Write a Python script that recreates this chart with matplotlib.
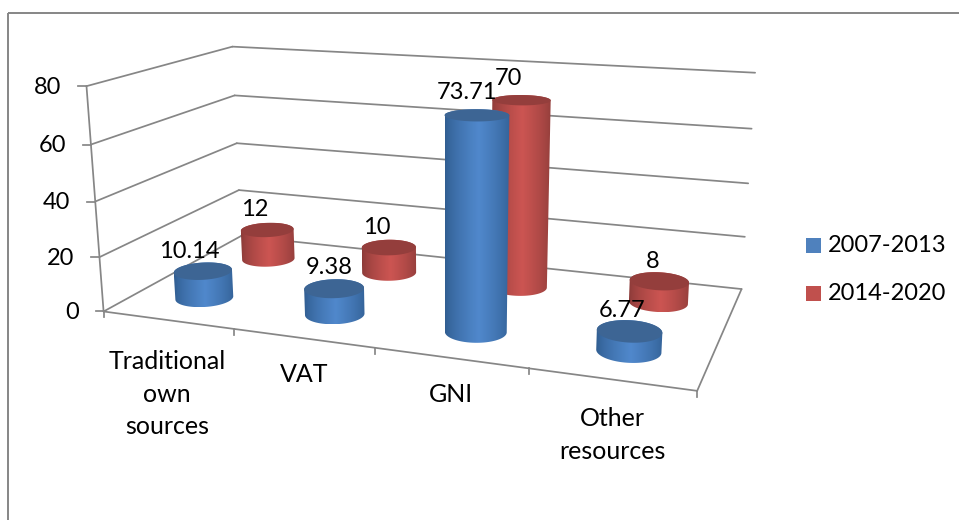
import numpy as np
import matplotlib
matplotlib.use("Agg")
import matplotlib.pyplot as plt
from matplotlib.colors import to_rgb
from matplotlib.patches import Polygon, Rectangle

plt.rcParams['font.family'] = ['Lato', 'DejaVu Sans']

# === Chart data ===
categories = ["Traditional\nown\nsources", "VAT", "GNI", "Other\nresources"]
series_names = ["2007-2013", "2014-2020"]
values_2007 = [10.14, 9.38, 73.71, 6.77]
values_2014 = [12, 10, 70, 8]
value_ticks = [0, 20, 40, 60, 80]

# === Layout ===
W, H = 959, 520
FS = 17
GRAY = "#868686"
BLUE = dict(light="#5088CC", dark="#2F5C8F", top="#3D6594", legend="#4F81BD", depth=0.25)
RED = dict(light="#CC5552", dark="#8A3A38", top="#943E3C", legend="#C0504D", depth=0.75)
RS, RT = 0.05, 0.1025  # cylinder radius along the categories and along the depth
VMAX = value_ticks[-1]
NCAT = len(categories)

# box corner (category share, depth, value share) -> pixel, to fit the camera
ANCHORS = [
    ((0, 0, 0), (103, 312)), ((1, 0, 0), (697, 391)), ((1, 1, 0), (741, 289)), ((0, 1, 0), (242, 236)),
    ((0, 0, 1), (87, 86)), ((0, 1, 1), (232, 47)), ((1, 1, 1), (755, 73)),
    ((0, 0, 0.5), (95.5, 201)), ((0, 1, 0.5), (236, 143)), ((1, 1, 0.5), (749, 183)),
]


def fit_camera(anchors):
    rows = []
    for (x, y, z), (u, v) in anchors:
        u, v = u / 500, v / 500
        rows.append([x, y, z, 1, 0, 0, 0, 0, -u * x, -u * y, -u * z, -u])
        rows.append([0, 0, 0, 0, x, y, z, 1, -v * x, -v * y, -v * z, -v])
    _, _, vt = np.linalg.svd(np.array(rows, dtype=float))
    return vt[-1].reshape(3, 4)


CAM = fit_camera(ANCHORS)


def proj(x, t, z):
    # x in categories, t in depth 0..1, z in chart values; returns pixel arrays
    x, t, z = [np.atleast_1d(a).astype(float).ravel() for a in np.broadcast_arrays(x, t, z)]
    p = CAM @ np.vstack([x / NCAT, t, z / VMAX, np.ones(x.size)])
    return 500 * p[0] / p[2], 500 * p[1] / p[2]


def line3d(ax, a, b, lw=1.25):
    ua, va = proj(*a)
    ub, vb = proj(*b)
    ax.plot([ua[0], ub[0]], [va[0], vb[0]], color=GRAY, lw=lw, solid_capstyle="round", zorder=1)


def ring(i, pal, z):
    th = np.linspace(0, 2 * np.pi, 240, endpoint=False)
    x = i + 0.5 + RS * NCAT * np.cos(th)
    t = pal["depth"] + RT * np.sin(th)
    u, v = proj(x, t, z)
    return np.column_stack([u, v])


def half(pts, lower):
    # the part of a ring below or above its left and right extremes
    pts = np.roll(pts, -np.argmax(pts[:, 0]), axis=0)
    il = np.argmin(pts[:, 0])
    a, b = pts[:il + 1], np.vstack([pts[il:], pts[:1]])
    if lower:
        return a if a[:, 1].mean() > b[:, 1].mean() else b[::-1]
    return b if a[:, 1].mean() > b[:, 1].mean() else a[::-1]


def cylinder(ax, i, val, pal, z):
    base = ring(i, pal, 0)
    top = ring(i, pal, val)
    outline = np.vstack([half(base, True), half(top, False)])

    # horizontal shading, clipped to the outline of the side
    left, right = outline[:, 0].min(), outline[:, 0].max()
    t = np.linspace(0, 1, 128)
    k = (np.clip(1 - np.abs(t - 0.52) / 0.52, 0, 1) ** 0.7)[None, :, None]
    img = np.array(to_rgb(pal["dark"]))[None, None, :] * (1 - k) + np.array(to_rgb(pal["light"]))[None, None, :] * k
    patch = Polygon(outline, closed=True, fc="none", ec="none")
    ax.add_patch(patch)
    im = ax.imshow(img, extent=(left, right, outline[:, 1].max(), outline[:, 1].min()),
                   aspect="auto", interpolation="bilinear", zorder=z)
    im.set_clip_path(patch)
    ax.fill(top[:, 0], top[:, 1], color=pal["top"], lw=0, zorder=z + 0.1)


fig = plt.figure(figsize=(W / 100, H / 100), dpi=100)
ax = fig.add_axes([0, 0, 1, 1])
ax.axis("off")

# outer chart frame, runs off the picture on the right and bottom
ax.add_patch(Rectangle((8, 13), W + 20, H + 20, fill=False, ec=GRAY, lw=1.4, zorder=0))

# walls and floor
for v in value_ticks:
    line3d(ax, (0, 0, v), (0, 1, v))
    line3d(ax, (0, 1, v), (NCAT, 1, v))
    u, w = proj(0, 0, v)
    ax.plot([u[0] - 8, u[0]], [w[0], w[0]], color=GRAY, lw=1.25, zorder=1)
    ax.text(u[0] - 25, w[0] + 1, str(v), fontsize=FS, ha="right", va="center", color="black")
line3d(ax, (0, 0, 0), (0, 0, VMAX))
line3d(ax, (0, 0, 0), (NCAT, 0, 0))
line3d(ax, (NCAT, 0, 0), (NCAT, 1, 0))
for i in range(NCAT + 1):
    u, w = proj(i, 0, 0)
    ax.plot([u[0], u[0]], [w[0], w[0] + 6], color=GRAY, lw=1.25, zorder=1)

# cylinders, back series first
for s, (vals, pal) in enumerate([(values_2014, RED), (values_2007, BLUE)]):
    for i, val in enumerate(vals):
        cylinder(ax, i, val, pal, 3 + s)

# data labels, offset from the top of each cylinder
offsets_2007 = [(-14, -20), (-5, -21), (-10, -23), (-7, -21)]
offsets_2014 = [(-13, -20), (-12, -20), (-13, -22), (-7, -20)]
for vals, pal, offsets in [(values_2007, BLUE, offsets_2007), (values_2014, RED, offsets_2014)]:
    for i, (val, (dx, dy)) in enumerate(zip(vals, offsets)):
        u, w = proj(i + 0.5, pal["depth"], val)
        ax.text(u[0] + dx, w[0] + dy, f"{val:g}", fontsize=FS, ha="center", va="center",
                color="black", zorder=10)

# category labels
label_xy = [(167, 394), (304, 374), (451, 394), (612, 435)]
for name, (x, y) in zip(categories, label_xy):
    ax.text(x, y, name, fontsize=18, ha="center", va="center", color="black", linespacing=1.5)

# legend
for name, pal, y in zip(series_names, [BLUE, RED], [245.5, 293.5]):
    ax.add_patch(Rectangle((806, y - 7.5), 15, 15, fc=pal["legend"], ec="none"))
    ax.text(828, y, name, fontsize=FS, ha="left", va="center", color="black")

ax.set_xlim(0, W)
ax.set_ylim(H, 0)
fig.savefig("out.png", dpi=100)
